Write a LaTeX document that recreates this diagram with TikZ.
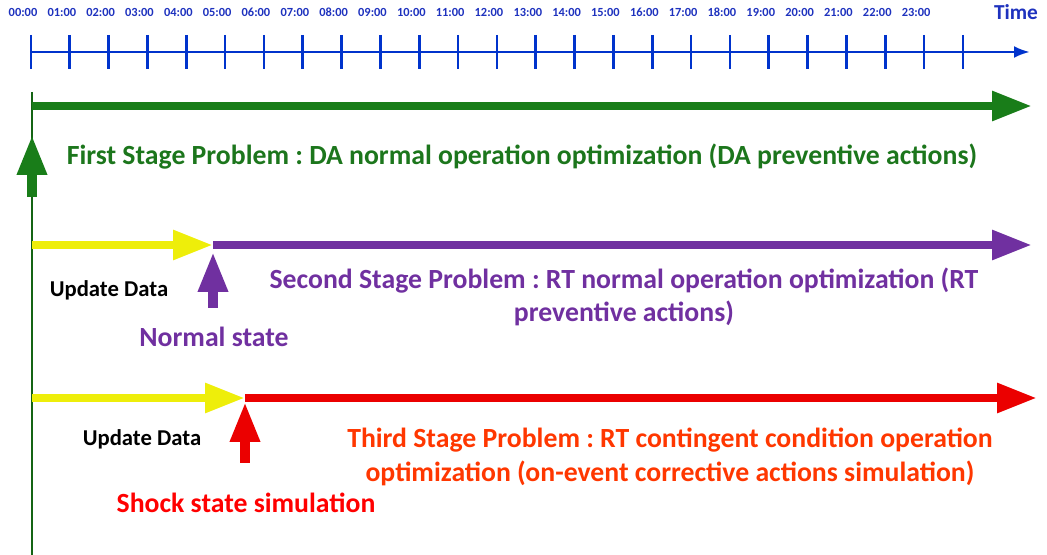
\documentclass[tikz,border=0pt]{standalone}
\usepackage{fontspec}
\setmainfont{Carlito}
\usetikzlibrary{arrows.meta,positioning}
\definecolor{axisblue}{RGB}{0,51,204}
\definecolor{hourblue}{RGB}{30,50,190}
\definecolor{stagegreen}{RGB}{25,125,25}
\definecolor{textgreen}{RGB}{28,118,28}
\definecolor{stagepurple}{RGB}{112,48,160}
\definecolor{stagered}{RGB}{235,0,0}
\definecolor{textorange}{RGB}{255,55,0}
\definecolor{datayellow}{RGB}{238,238,10}
\frenchspacing
\tikzset{
axis/.style={axisblue, line width=2.2pt, -{Latex[length=12pt,width=9pt]}},
tick/.style={axisblue, line width=2pt},
hour/.style={hourblue, font=\bfseries\fontsize{9.3}{10}\selectfont},
timelabel/.style={hourblue, font=\bfseries\fontsize{16}{18}\selectfont},
bigarrow/.style={line width=6.5pt, -{Triangle[length=30pt,width=21pt]}},
uparrow/.style={line width=7pt, -{Triangle[length=30pt,width=21pt]}},
stagetext/.style={font=\bfseries\fontsize{20.8}{25}\selectfont, align=center},
datatext/.style={font=\bfseries\fontsize{17}{19}\selectfont},
}

\begin{document}
\begin{tikzpicture}[x=0.75pt,y=-0.75pt]
    \useasboundingbox (0,0) rectangle (1047,555);

    % time axis
    \coordinate (t0) at (31,52);
    \coordinate (tend) at (1030,52);
    \draw[axis] (t0) -- (tend);
    \foreach \i in {0,...,24}
        \draw[tick] (31+\i*38.83,35) -- (31+\i*38.83,69);
    \foreach \i in {0,...,23}
        \node[hour] (h\i) at (23+\i*38.83,12) {\ifnum\i<10 0\fi\i:00};
    \node[timelabel] (time) at (1016,12) {Time};

    % first stage
    \coordinate (g0) at (32,92);
    \coordinate (gbot) at (32,555);
    \coordinate (g1) at (32,106);
    \coordinate (g2) at (1032,106);
    \coordinate (gu0) at (32,197);
    \coordinate (gu1) at (32,135);
    \draw[stagegreen!80!black, line width=2pt] (g0) -- (gbot);
    \draw[bigarrow, stagegreen] (g1) -- (g2);
    \draw[uparrow, stagegreen] (gu0) -- (gu1);
    \node[stagetext, textgreen] (first) at (522,157)
        {First Stage Problem : DA normal operation optimization (DA preventive actions)};

    % second stage
    \coordinate (y1) at (32,245);
    \coordinate (p1) at (213,245);
    \coordinate (p2) at (1032,245);
    \coordinate (pu0) at (213,308);
    \coordinate (pu1) at (213,252);
    \draw[bigarrow, datayellow] (y1) -- (p1);
    \draw[bigarrow, stagepurple] (p1) -- (p2);
    \draw[uparrow, stagepurple] (pu0) -- (pu1);
    \node[datatext] (update1) at (109,290) {Update Data};
    \node[stagetext, stagepurple] (normal) at (214,337) {Normal state};
    \node[stagetext, stagepurple] (second) at (624,297)
        {Second Stage Problem : RT normal operation optimization (RT\\preventive actions)};

    % third stage
    \coordinate (y2) at (32,398);
    \coordinate (r1) at (245,398);
    \coordinate (r2) at (1037,398);
    \coordinate (ru0) at (245,463);
    \coordinate (ru1) at (245,402);
    \draw[bigarrow, datayellow] (y2) -- (r1);
    \draw[bigarrow, stagered] (r1) -- (r2);
    \draw[uparrow, stagered] (ru0) -- (ru1);
    \node[datatext] (update2) at (142,439) {Update Data};
    \node[stagetext, red] (shock) at (246,503) {Shock state simulation};
    \node[stagetext, textorange] (third) at (670,457)
        {Third Stage Problem : RT contingent condition operation\\optimization (on-event corrective actions simulation)};
\end{tikzpicture}
\end{document}
